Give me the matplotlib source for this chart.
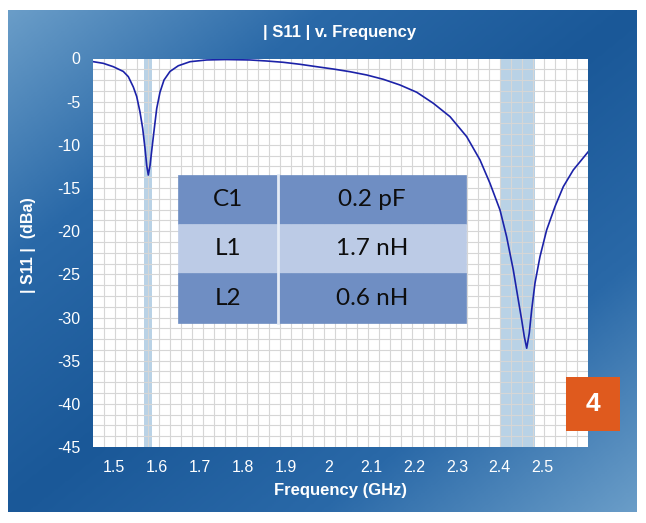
import matplotlib.pyplot as plt
import numpy as np
from matplotlib.colors import LinearSegmentedColormap
from matplotlib.patches import Rectangle

# |S11| (GHz, dB)
FREQ = [1.4512, 1.4746, 1.4979, 1.5212, 1.5329, 1.5446, 1.5525, 1.5602,
        1.5665, 1.5719, 1.5759, 1.5796, 1.5836, 1.5882, 1.5936, 1.5992,
        1.6069, 1.6162, 1.6302, 1.6496, 1.6770, 1.7159, 1.7600, 1.8170,
        1.8560, 1.8947, 1.9337, 1.9727, 2.0115, 2.0504, 2.0894, 2.1282,
        2.1672, 2.2062, 2.2450, 2.2840, 2.3228, 2.3539, 2.3772, 2.4006,
        2.4160, 2.4316, 2.4433, 2.4512, 2.4573, 2.4629, 2.4689, 2.4745,
        2.4822, 2.4939, 2.5095, 2.5289, 2.5483, 2.5717, 2.6067]
S11 = [-0.37, -0.56, -0.95, -1.50, -2.10, -3.30, -4.40, -6.20,
       -8.10, -10.40, -12.40, -13.50, -12.40, -10.40, -8.10, -5.80,
       -3.90, -2.50, -1.50, -0.84, -0.37, -0.17, -0.12, -0.17,
       -0.29, -0.44, -0.67, -0.95, -1.22, -1.53, -1.91, -2.41,
       -3.07, -3.91, -5.19, -6.74, -9.05, -11.75, -14.46, -17.55,
       -20.64, -24.49, -27.97, -30.28, -32.22, -33.56, -31.82, -29.12,
       -26.03, -22.95, -19.86, -17.16, -14.85, -12.91, -10.79]

BANDS = [(1.5705, 1.589), (2.401, 2.483)]

XTICKS = [1.5, 1.6, 1.7, 1.8, 1.9, 2.0, 2.1, 2.2, 2.3, 2.4, 2.5]
XTICK_LABELS = ['1.5', '1.6', '1.7', '1.8', '1.9', '2', '2.1', '2.2', '2.3', '2.4', '2.5']
YTICKS = [0, -5, -10, -15, -20, -25, -30, -35, -40, -45]
YTICK_LABELS = ['0', '-5', '-10', '-15', '-20', '-25', '-30', '-35', '-40', '-45']

PARTS = ['C1', 'L1', 'L2']
VALUES = ['0.2 pF', '1.7 nH', '0.6 nH']

W, H = 646, 523
fig = plt.figure(figsize=(W / 100, H / 100), dpi=100)
fig.patch.set_facecolor('white')

# blue panel with a diagonal gradient
bg = fig.add_axes([8 / W, 1 - 512 / H, 629 / W, 502 / H])
u, v = np.meshgrid(np.linspace(0, 1, 300), np.linspace(0, 1, 240))
t = np.abs(u + v - 1.0)
cmap = LinearSegmentedColormap.from_list('panel', ['#1a5898', '#2a69a8', '#6a9dc8'])
bg.imshow(t, cmap=cmap, aspect='auto', extent=[0, 1, 0, 1], origin='upper')
bg.set_axis_off()

ax = fig.add_axes([93 / W, 1 - 447 / H, 495 / W, 388.5 / H])
ax.set_facecolor('white')
ax.set_xlim(1.4505, 2.606)
ax.set_ylim(-45, 0)

for lo, hi in BANDS:
    ax.axvspan(lo, hi, color='#b9d2e6', lw=0, zorder=1)

# decorative grid (45 x 36 squares)
for i in range(1, 45):
    ax.plot([i / 45, i / 45], [0, 1], transform=ax.transAxes, color='#d6d6d6', lw=0.8, zorder=2)
for j in range(1, 36):
    ax.plot([0, 1], [j / 36, j / 36], transform=ax.transAxes, color='#d6d6d6', lw=0.8, zorder=2)

ax.plot(FREQ, S11, color='#1c22a8', lw=1.2, zorder=3, solid_joinstyle='round')

for s in ax.spines.values():
    s.set_visible(False)

ax.set_xticks(XTICKS)
ax.set_xticklabels(XTICK_LABELS)
ax.set_yticks(YTICKS)
ax.set_yticklabels(YTICK_LABELS)
ax.tick_params(length=0, colors='white', labelsize=11.5)
ax.tick_params(axis='x', pad=9)
ax.tick_params(axis='y', pad=9)
for lab in ax.get_xticklabels() + ax.get_yticklabels():
    lab.set_fontfamily('Liberation Sans')

fig.text(340 / W, 1 - 33 / H, '| S11 | v. Frequency', color='white', fontsize=12,
         fontweight='bold', family='Liberation Sans', ha='center', va='center')
fig.text(340 / W, 1 - 491 / H, 'Frequency (GHz)', color='white', fontsize=12,
         fontweight='bold', family='Liberation Sans', ha='center', va='center')
fig.text(28 / W, 1 - 245 / H, '| S11 |  (dBa)', color='white', fontsize=11.5,
         fontweight='bold', family='Liberation Sans', ha='center', va='center', rotation=90)

# component table
tb_x, tb_y, tb_w, tb_h = 0.1723, 0.320, 0.5812, 0.380
col0 = 0.3466
tbl = ax.table(cellText=[[p, val] for p, val in zip(PARTS, VALUES)],
               colWidths=[col0, 1 - col0], bbox=[tb_x, tb_y, tb_w, tb_h],
               cellLoc='center', zorder=5)
tbl.auto_set_font_size(False)
row_colors = ['#6f8ec3', '#bccbe6', '#6f8ec3']
for (r, c), cell in tbl.get_celld().items():
    cell.set_facecolor(row_colors[r])
    cell.set_edgecolor(row_colors[r])
    cell.set_linewidth(0.5)
    cell.get_text().set_fontsize(17.5)
    cell.get_text().set_fontfamily('Lato')
    cell.get_text().set_color('#0e0e0e')
xd = tb_x + col0 * tb_w
ax.plot([xd, xd], [tb_y, tb_y + tb_h], transform=ax.transAxes, color='#e4ebf5', lw=2, zorder=6)

# figure number badge
fig.patches.append(Rectangle((566 / W, 1 - 431 / H), 54 / W, 54 / H, transform=fig.transFigure,
                             facecolor='#df5a1e', edgecolor='none', zorder=5))
fig.text(593 / W, 1 - 404 / H, '4', color='white', fontsize=19, fontweight='bold',
         family='Liberation Sans', ha='center', va='center', zorder=6)

fig.savefig('out.png', dpi=100, facecolor='white')
